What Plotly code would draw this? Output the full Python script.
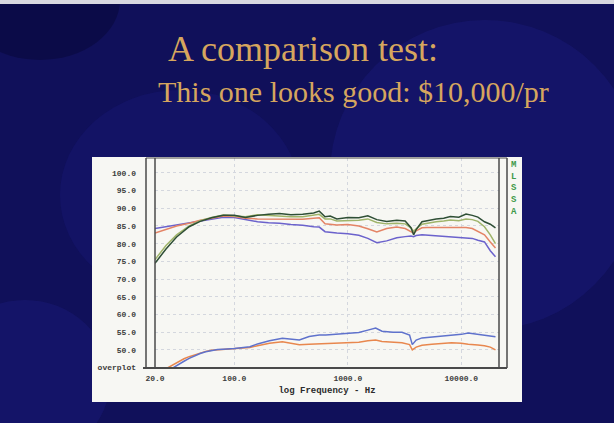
import plotly.graph_objects as go

# ---------------- data ----------------
freq_hi = [20, 25, 31, 40, 50, 63, 80, 100, 125, 160, 200, 250, 315, 400, 500, 560, 630, 700,
           800, 1000, 1250, 1500, 1800, 2200, 2700, 3200, 3600, 3800, 4000, 4500, 5000, 6000,
           7000, 8000, 9500, 11000, 12500, 14000, 16000, 18000, 20000]
dark_green = [74.5, 78.5, 81.9, 84.8, 86.3, 87.3, 88.0, 88.0, 87.4, 88.0, 88.3, 88.5, 88.2, 88.3,
              88.7, 89.2, 87.6, 87.8, 87.0, 87.4, 87.3, 87.9, 86.8, 86.3, 86.6, 86.4, 84.5, 82.5,
              84.0, 86.2, 86.5, 87.0, 87.2, 87.7, 87.5, 88.4, 88.0, 87.5, 86.2, 85.5, 84.5]
light_green = [75.5, 79.5, 82.5, 85.0, 86.5, 87.4, 88.1, 87.8, 87.6, 88.2, 88.0, 88.0, 87.6, 87.6,
               88.0, 88.3, 87.0, 87.0, 86.4, 86.6, 86.6, 87.0, 86.0, 85.6, 85.8, 85.6, 84.5, 83.5,
               84.2, 85.5, 85.8, 86.2, 86.4, 86.7, 86.5, 87.0, 86.8, 86.3, 84.8, 82.5, 80.0]
red_hi = [83.0, 84.0, 85.0, 85.8, 86.6, 87.2, 87.8, 87.7, 87.2, 87.0, 87.0, 87.0, 86.8, 86.9,
          87.2, 87.3, 85.6, 85.4, 85.3, 85.4, 85.0, 84.2, 83.3, 84.3, 84.7, 84.3, 83.5, 83.0,
          83.6, 84.5, 84.6, 84.6, 84.4, 84.6, 84.5, 84.6, 84.3, 83.5, 82.5, 80.5, 78.8]
blue_hi = [84.3, 84.8, 85.3, 85.8, 86.3, 86.9, 87.5, 87.4, 86.8, 86.2, 85.9, 85.8, 85.4, 85.2,
           84.8, 84.7, 83.4, 83.2, 83.0, 82.8, 82.4, 81.5, 80.3, 80.8, 81.7, 82.0, 82.2, 82.0,
           82.3, 82.5, 82.4, 82.3, 82.1, 82.0, 81.9, 81.8, 81.5, 81.0, 80.5, 78.0, 76.3]

freq_lo_blue = [29, 32, 36, 40, 45, 50, 56, 63, 71, 80, 90, 100, 115, 137, 160, 204, 265, 330,
                374, 456, 560, 640, 800, 1000, 1250, 1500, 1760, 2000, 2500, 3000, 3500, 3700,
                4000, 4500, 5500, 7000, 8200, 10000, 11500, 14000, 16000, 18000, 20000]
blue_lo = [45.0, 45.9, 46.8, 47.6, 48.4, 49.0, 49.5, 49.9, 50.1, 50.2, 50.2, 50.4, 50.6, 50.9,
           51.7, 52.6, 53.3, 53.0, 52.8, 53.8, 54.2, 54.2, 54.4, 54.5, 54.9, 55.6, 56.2, 55.3,
           55.0, 55.0, 54.2, 51.5, 52.8, 53.4, 53.6, 53.9, 54.2, 54.4, 54.8, 54.4, 54.2, 53.8, 53.7]
freq_lo_orange = [26, 29, 32, 36, 40, 45, 50, 56, 63, 71, 80, 90, 100, 115, 137, 160, 204, 265,
                  330, 374, 456, 560, 640, 800, 1000, 1250, 1500, 1760, 2000, 2500, 3000, 3500,
                  3700, 4000, 4500, 5500, 7000, 8200, 10000, 11500, 14000, 16000, 18000, 20000]
orange_lo = [45.0, 45.9, 46.7, 47.5, 48.1, 48.7, 49.2, 49.6, 49.9, 50.0, 50.1, 50.2, 50.3, 50.5,
             50.7, 51.2, 51.9, 52.3, 51.7, 51.5, 51.6, 51.7, 51.8, 51.9, 52.0, 52.2, 52.6, 52.8,
             52.4, 52.1, 52.0, 51.5, 50.0, 50.8, 51.3, 51.6, 51.8, 52.0, 51.9, 51.6, 51.4, 51.2,
             50.8, 50.0]

y_tick_vals = [45, 50, 55, 60, 65, 70, 75, 80, 85, 90, 95, 100]
y_tick_text = ["overplot", "50.0", "55.0", "60.0", "65.0", "70.0", "75.0", "80.0", "85.0",
               "90.0", "95.0", "100.0"]
x_tick_vals = [20, 100, 1000, 10000]
x_tick_text = ["20.0", "100.0", "1000.0", "10000.0"]

title_line1 = "A comparison test:"
title_line2 = "This one looks good: $10,000/pr"
x_title = "log Frequency - Hz"
brand = "M<br>L<br>S<br>S<br>A"

# ---------------- layout helpers (pixel -> paper) ----------------
W, H = 614, 423
PL, PR, PT, PB = 155, 499, 158, 368


def px(x):
    return (x - PL) / (PR - PL)


def py(y):
    return (PB - y) / (PB - PT)


fig = go.Figure()
series = [
    (freq_hi, blue_hi, "#6b62cc"),
    (freq_hi, red_hi, "#e48466"),
    (freq_hi, light_green, "#9fb46a"),
    (freq_hi, dark_green, "#2f4f35"),
    (freq_lo_orange, orange_lo, "#e8874e"),
    (freq_lo_blue, blue_lo, "#5f72cc"),
]
for xs, ys, c in series:
    fig.add_trace(go.Scatter(x=xs, y=ys, mode="lines", line=dict(color=c, width=1.5),
                             showlegend=False, hoverinfo="skip"))

mono = "Liberation Mono"
fig.update_xaxes(type="log", range=[1.301, 4.332], tickvals=x_tick_vals, ticktext=x_tick_text,
                 showgrid=True, gridcolor="#d4d7de", griddash="dot", gridwidth=1,
                 zeroline=False, showline=False, ticks="", automargin=False,
                 tickfont=dict(family=mono, size=8, color="#3c3c3c", weight="bold"),
                 ticklabelstandoff=4,
                 title=dict(text=x_title, standoff=4,
                            font=dict(family=mono, size=9, color="#2c2c2c", weight="bold")))
fig.update_yaxes(range=[44.9, 104.2], tickvals=y_tick_vals, ticktext=y_tick_text,
                 showgrid=True, gridcolor="#d4d7de", griddash="dot", gridwidth=1,
                 zeroline=False, showline=False, ticks="", automargin=False,
                 tickfont=dict(family=mono, size=8, color="#3c3c3c", weight="bold"),
                 ticklabelstandoff=18)

line_col = "#4a4a4a"
shapes = [
    # soft mottling of the slide background
    dict(type="circle", xref="paper", yref="paper", x0=px(330), x1=px(640), y0=py(330),
         y1=py(20), fillcolor="#2a2aa0", opacity=0.2, line=dict(width=0), layer="below"),
    dict(type="circle", xref="paper", yref="paper", x0=px(60), x1=px(300), y0=py(300),
         y1=py(90), fillcolor="#24249a", opacity=0.18, line=dict(width=0), layer="below"),
    dict(type="circle", xref="paper", yref="paper", x0=px(-40), x1=px(120), y0=py(60),
         y1=py(-60), fillcolor="#000020", opacity=0.3, line=dict(width=0), layer="below"),
    dict(type="circle", xref="paper", yref="paper", x0=px(-60), x1=px(110), y0=py(460),
         y1=py(300), fillcolor="#2626a0", opacity=0.2, line=dict(width=0), layer="below"),
    # light top edge of the photographed slide
    dict(type="rect", xref="paper", yref="paper", x0=px(0), x1=px(614), y0=py(4), y1=py(0),
         fillcolor="#d8d8e0", line=dict(width=0), layer="below"),
    # white panel
    dict(type="rect", xref="paper", yref="paper", x0=px(92), x1=px(522), y0=py(402), y1=py(157),
         fillcolor="#f7f7f3", line=dict(width=0), layer="below"),
    # frame lines
    dict(type="line", xref="paper", yref="paper", x0=px(155), x1=px(155), y0=py(368), y1=py(158),
         line=dict(color=line_col, width=1.5)),
    dict(type="line", xref="paper", yref="paper", x0=px(146), x1=px(146), y0=py(368), y1=py(158),
         line=dict(color=line_col, width=1.5)),
    dict(type="line", xref="paper", yref="paper", x0=px(499), x1=px(499), y0=py(368), y1=py(158),
         line=dict(color=line_col, width=1.5)),
    dict(type="line", xref="paper", yref="paper", x0=px(507), x1=px(507), y0=py(368), y1=py(158),
         line=dict(color=line_col, width=1.5)),
    dict(type="line", xref="paper", yref="paper", x0=px(143), x1=px(507), y0=py(368), y1=py(368),
         line=dict(color=line_col, width=1.8)),
    dict(type="line", xref="paper", yref="paper", x0=px(146), x1=px(507), y0=py(158), y1=py(158),
         line=dict(color=line_col, width=1.2)),
]

annotations = [
    dict(text=title_line1, xref="paper", yref="paper", x=px(166), y=py(49), xanchor="left",
         yanchor="middle", showarrow=False,
         font=dict(family="Liberation Serif", size=36, color="#d6a65e")),
    dict(text=title_line2, xref="paper", yref="paper", x=px(156), y=py(91), xanchor="left",
         yanchor="middle", showarrow=False,
         font=dict(family="Liberation Serif", size=30, color="#d6a65e")),
    dict(text=brand, xref="paper", yref="paper", x=px(514), y=py(188), xanchor="center",
         yanchor="middle", showarrow=False,
         font=dict(family=mono, size=9, color="#3f9a4a", weight="bold")),
]

fig.update_layout(
    width=W, height=H,
    margin=dict(l=PL, r=W - PR, t=PT, b=H - PB),
    paper_bgcolor="#10105a",
    plot_bgcolor="#f7f7f3",
    shapes=shapes,
    annotations=annotations,
)

fig.write_html("out.html", config={"displayModeBar": False},
               post_script="document.body.style.margin='0';document.body.style.overflow='hidden';")
